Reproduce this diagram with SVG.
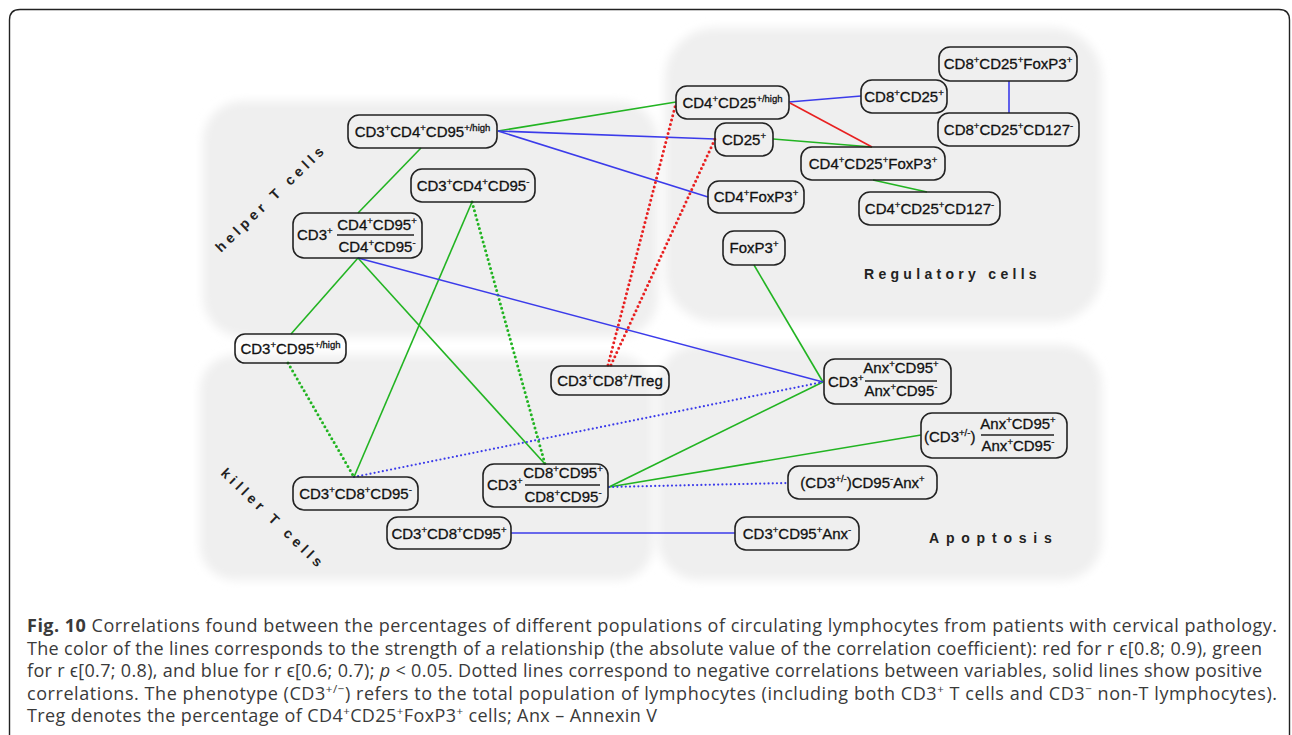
<svg xmlns="http://www.w3.org/2000/svg" width="1292" height="735" viewBox="0 0 1292 735">
<defs>
<filter id="soft" x="-10%" y="-10%" width="120%" height="120%"><feGaussianBlur stdDeviation="5"/></filter>
<style>
.n{font-family:"Liberation Sans",Arial,sans-serif;font-size:15px;fill:#111;stroke:#111;stroke-width:0.3;text-anchor:middle}
.st{text-anchor:start}
.s{font-size:9.5px}
.box{fill:none;stroke:#222;stroke-width:1.6}
.reg{font-family:"Liberation Sans",Arial,sans-serif;font-size:14px;font-weight:bold;fill:#222;letter-spacing:4.2px}
.c{fill:none;stroke-width:1.6}
.g{stroke:#22b422}
.b{stroke:#3b3bea}
.r{stroke:#e82020}
.d{stroke-width:3;stroke-dasharray:0 4.6;stroke-linecap:round}
.db{stroke-width:2.2;stroke-dasharray:0 4.2;stroke-linecap:round}
.fl{stroke:#222;stroke-width:1.3}
.cap{font-family:"Open Sans","Liberation Sans",sans-serif;font-size:18px;fill:#3a3a3a}
.cs{font-size:11.5px}
</style>
</defs>
<rect width="1292" height="735" fill="#fff"/>
<path d="M9.5,735 V20 Q9.5,9.5 20,9.5 H1279 Q1289.5,9.5 1289.5,20 V735" fill="none" stroke="#222" stroke-width="1.4"/>
<g id="regions" fill="#efefef" filter="url(#soft)">
<rect x="203" y="101" width="455" height="236" rx="40"/>
<rect x="665" y="28" width="437" height="294" rx="50"/>
<rect x="200" y="355" width="453" height="225" rx="35"/>
<rect x="658" y="345" width="444" height="235" rx="40"/>
</g>
<g id="region-labels">
<text class="reg" transform="translate(221,253) rotate(-44)">helper T cells</text>
<text class="reg" transform="translate(220,474) rotate(44)">killer T cells</text>
<text class="reg" x="864" y="279" style="letter-spacing:4.3px">Regulatory cells</text>
<text class="reg" x="929" y="543" style="letter-spacing:6.8px">Apoptosis</text>
</g>
<g id="connectors">
<line class="c g" x1="421" y1="148" x2="358" y2="213"/>
<line class="c g" x1="498" y1="131" x2="676" y2="102"/>
<line class="c g" x1="773" y1="139" x2="872" y2="147"/>
<line class="c g" x1="873" y1="180" x2="927" y2="192"/>
<line class="c g" x1="754" y1="265" x2="823" y2="382"/>
<line class="c g" x1="358" y1="258" x2="291" y2="334"/>
<line class="c g" x1="358" y1="258" x2="545" y2="464"/>
<line class="c g" x1="472" y1="202" x2="354" y2="477"/>
<line class="c g" x1="609" y1="487" x2="823" y2="382"/>
<line class="c g" x1="609" y1="487" x2="921" y2="435"/>
<line class="c g d" x1="472" y1="202" x2="545" y2="464"/>
<line class="c g d" x1="288" y1="363" x2="354" y2="477"/>
<line class="c b" x1="498" y1="131" x2="715" y2="139"/>
<line class="c b" x1="498" y1="131" x2="708" y2="197"/>
<line class="c b" x1="789" y1="102" x2="861" y2="96"/>
<line class="c b" x1="1009" y1="81" x2="1009" y2="113"/>
<line class="c b" x1="358" y1="258" x2="823" y2="382"/>
<line class="c b" x1="511" y1="533" x2="735" y2="533"/>
<line class="c b db" x1="354" y1="477" x2="823" y2="382"/>
<line class="c b db" x1="609" y1="487" x2="788" y2="483"/>
<line class="c r" x1="790" y1="103" x2="872" y2="147"/>
<line class="c r d" x1="608" y1="365" x2="676" y2="103"/>
<line class="c r d" x1="611" y1="365" x2="715" y2="139"/>
</g>
<g id="n1"><rect class="box" x="348" y="115" width="149" height="33" rx="11"/>
<text class="n" x="422.5" y="137">CD3<tspan class="s" dy="-6">+</tspan><tspan dy="6">CD4</tspan><tspan class="s" dy="-6">+</tspan><tspan dy="6">CD95</tspan><tspan class="s" dy="-6">+/high</tspan></text></g>
<g id="n2"><rect class="box" x="411" y="169" width="124" height="33" rx="11"/>
<text class="n" x="473" y="191">CD3<tspan class="s" dy="-6">+</tspan><tspan dy="6">CD4</tspan><tspan class="s" dy="-6">+</tspan><tspan dy="6">CD95</tspan><tspan class="s" dy="-6">-</tspan></text></g>
<g id="n3"><rect class="box" x="293" y="213" width="129" height="45" rx="11"/>
<text class="n st" x="297" y="240">CD3<tspan class="s" dy="-6">+</tspan></text>
<text class="n" x="377" y="230">CD4<tspan class="s" dy="-6">+</tspan><tspan dy="6">CD95</tspan><tspan class="s" dy="-6">+</tspan></text>
<line class="fl" x1="337" y1="235" x2="414" y2="235"/>
<text class="n" x="377" y="252">CD4<tspan class="s" dy="-6">+</tspan><tspan dy="6">CD95</tspan><tspan class="s" dy="-6">-</tspan></text></g>
<g id="n4"><rect class="box" x="235" y="334" width="111" height="29" rx="10"/>
<text class="n" x="290.5" y="354">CD3<tspan class="s" dy="-6">+</tspan><tspan dy="6">CD95</tspan><tspan class="s" dy="-6">+/high</tspan></text></g>
<g id="n5"><rect class="box" x="293" y="477" width="125" height="33" rx="11"/>
<text class="n" x="355.5" y="499">CD3<tspan class="s" dy="-6">+</tspan><tspan dy="6">CD8</tspan><tspan class="s" dy="-6">+</tspan><tspan dy="6">CD95</tspan><tspan class="s" dy="-6">-</tspan></text></g>
<g id="n6"><rect class="box" x="387" y="517" width="124" height="32" rx="11"/>
<text class="n" x="449" y="539">CD3<tspan class="s" dy="-6">+</tspan><tspan dy="6">CD8</tspan><tspan class="s" dy="-6">+</tspan><tspan dy="6">CD95</tspan><tspan class="s" dy="-6">+</tspan></text></g>
<g id="n7"><rect class="box" x="483" y="464" width="125" height="43" rx="11"/>
<text class="n st" x="487" y="490">CD3<tspan class="s" dy="-6">+</tspan></text>
<text class="n" x="563" y="478">CD8<tspan class="s" dy="-6">+</tspan><tspan dy="6">CD95</tspan><tspan class="s" dy="-6">+</tspan></text>
<line class="fl" x1="525" y1="485" x2="600" y2="485"/>
<text class="n" x="563" y="502">CD8<tspan class="s" dy="-6">+</tspan><tspan dy="6">CD95</tspan><tspan class="s" dy="-6">-</tspan></text></g>
<g id="n8"><rect class="box" x="551" y="366" width="118" height="29" rx="10"/>
<text class="n" x="610" y="386">CD3<tspan class="s" dy="-6">+</tspan><tspan dy="6">CD8</tspan><tspan class="s" dy="-6">+</tspan><tspan dy="6">/Treg</tspan></text></g>
<g id="n9"><rect class="box" x="676" y="86" width="113" height="33" rx="11"/>
<text class="n" x="732.5" y="108">CD4<tspan class="s" dy="-6">+</tspan><tspan dy="6">CD25</tspan><tspan class="s" dy="-6">+/high</tspan></text></g>
<g id="n10"><rect class="box" x="715" y="123" width="58" height="33" rx="11"/>
<text class="n" x="744" y="145">CD25<tspan class="s" dy="-6">+</tspan></text></g>
<g id="n11"><rect class="box" x="708" y="181" width="96" height="32" rx="11"/>
<text class="n" x="756" y="202">CD4<tspan class="s" dy="-6">+</tspan><tspan dy="6">FoxP3</tspan><tspan class="s" dy="-6">+</tspan></text></g>
<g id="n12"><rect class="box" x="861" y="80" width="86" height="33" rx="11"/>
<text class="n" x="904" y="102">CD8<tspan class="s" dy="-6">+</tspan><tspan dy="6">CD25</tspan><tspan class="s" dy="-6">+</tspan></text></g>
<g id="n13"><rect class="box" x="939" y="47" width="138" height="34" rx="11"/>
<text class="n" x="1008" y="69">CD8<tspan class="s" dy="-6">+</tspan><tspan dy="6">CD25</tspan><tspan class="s" dy="-6">+</tspan><tspan dy="6">FoxP3</tspan><tspan class="s" dy="-6">+</tspan></text></g>
<g id="n14"><rect class="box" x="938" y="113" width="141" height="33" rx="11"/>
<text class="n" x="1008.5" y="135">CD8<tspan class="s" dy="-6">+</tspan><tspan dy="6">CD25</tspan><tspan class="s" dy="-6">+</tspan><tspan dy="6">CD127</tspan><tspan class="s" dy="-6">-</tspan></text></g>
<g id="n15"><rect class="box" x="801" y="147" width="144" height="33" rx="11"/>
<text class="n" x="873" y="169">CD4<tspan class="s" dy="-6">+</tspan><tspan dy="6">CD25</tspan><tspan class="s" dy="-6">+</tspan><tspan dy="6">FoxP3</tspan><tspan class="s" dy="-6">+</tspan></text></g>
<g id="n16"><rect class="box" x="859" y="192" width="141" height="33" rx="11"/>
<text class="n" x="929.5" y="214">CD4<tspan class="s" dy="-6">+</tspan><tspan dy="6">CD25</tspan><tspan class="s" dy="-6">+</tspan><tspan dy="6">CD127</tspan><tspan class="s" dy="-6">-</tspan></text></g>
<g id="n17"><rect class="box" x="723" y="231" width="62" height="34" rx="11"/>
<text class="n" x="754" y="253">FoxP3<tspan class="s" dy="-6">+</tspan></text></g>
<g id="n18"><rect class="box" x="824" y="359" width="127" height="45" rx="11"/>
<text class="n st" x="828" y="387">CD3<tspan class="s" dy="-6">+</tspan></text>
<text class="n" x="901" y="373">Anx<tspan class="s" dy="-6">+</tspan><tspan dy="6">CD95</tspan><tspan class="s" dy="-6">+</tspan></text>
<line class="fl" x1="865" y1="381" x2="937" y2="381"/>
<text class="n" x="901" y="396">Anx<tspan class="s" dy="-6">+</tspan><tspan dy="6">CD95</tspan><tspan class="s" dy="-6">-</tspan></text></g>
<g id="n19"><rect class="box" x="921" y="413" width="146" height="45" rx="11"/>
<text class="n st" x="924" y="442">(CD3<tspan class="s" dy="-6">+/-</tspan><tspan dy="6">)</tspan></text>
<text class="n" x="1018" y="429">Anx<tspan class="s" dy="-6">+</tspan><tspan dy="6">CD95</tspan><tspan class="s" dy="-6">+</tspan></text>
<line class="fl" x1="981" y1="435" x2="1054" y2="435"/>
<text class="n" x="1018" y="451">Anx<tspan class="s" dy="-6">+</tspan><tspan dy="6">CD95</tspan><tspan class="s" dy="-6">-</tspan></text></g>
<g id="n20"><rect class="box" x="788" y="466" width="149" height="33" rx="11"/>
<text class="n" x="862.5" y="488">(CD3<tspan class="s" dy="-6">+/-</tspan><tspan dy="6">)CD95</tspan><tspan class="s" dy="-6">-</tspan><tspan dy="6">Anx</tspan><tspan class="s" dy="-6">+</tspan></text></g>
<g id="n21"><rect class="box" x="735" y="517" width="124" height="33" rx="11"/>
<text class="n" x="797" y="539">CD3<tspan class="s" dy="-6">+</tspan><tspan dy="6">CD95</tspan><tspan class="s" dy="-6">+</tspan><tspan dy="6">Anx</tspan><tspan class="s" dy="-6">-</tspan></text></g>
<g id="caption" class="cap">
<text x="27" y="632" textLength="1250" lengthAdjust="spacing"><tspan font-weight="bold">Fig. 10</tspan> Correlations found between the percentages of different populations of circulating lymphocytes from patients with cervical pathology.</text>
<text x="27" y="654.5" textLength="1235" lengthAdjust="spacing">The color of the lines corresponds to the strength of a relationship (the absolute value of the correlation coefficient): red for r ϵ[0.8; 0.9), green</text>
<text x="27" y="677" textLength="1235" lengthAdjust="spacing">for r ϵ[0.7; 0.8), and blue for r ϵ[0.6; 0.7); <tspan font-style="italic">p</tspan> &lt; 0.05. Dotted lines correspond to negative correlations between variables, solid lines show positive</text>
<text x="27" y="699.5" textLength="1250" lengthAdjust="spacing">correlations. The phenotype (CD3<tspan class="cs" dy="-7">+/−</tspan><tspan dy="7">) refers to the total population of lymphocytes (including both CD3</tspan><tspan class="cs" dy="-7">+</tspan><tspan dy="7"> T cells and CD3</tspan><tspan class="cs" dy="-7">−</tspan><tspan dy="7"> non-T lymphocytes).</tspan></text>
<text x="27" y="722" textLength="630" lengthAdjust="spacing">Treg denotes the percentage of CD4<tspan class="cs" dy="-7">+</tspan><tspan dy="7">CD25</tspan><tspan class="cs" dy="-7">+</tspan><tspan dy="7">FoxP3</tspan><tspan class="cs" dy="-7">+</tspan><tspan dy="7"> cells; Anx – Annexin V</tspan></text>
</g>
</svg>
